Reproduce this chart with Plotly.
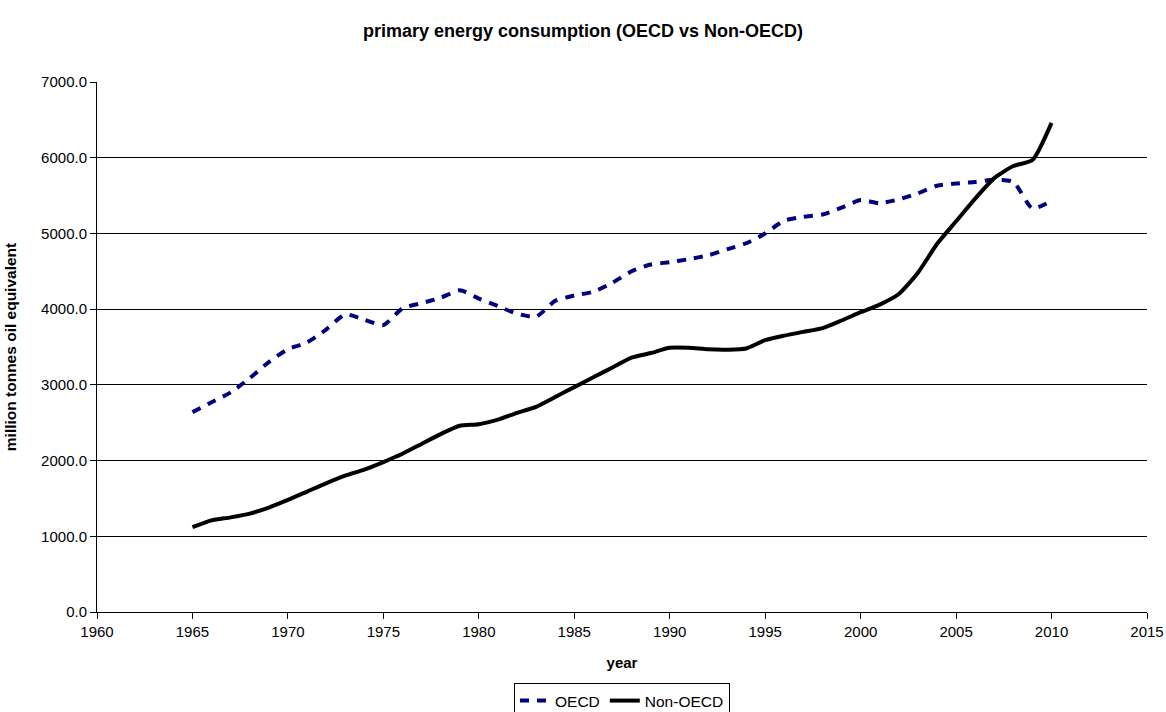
import plotly.graph_objects as go

years = list(range(1965, 2011))
oecd = [2640, 2770, 2900, 3090, 3300, 3470, 3560, 3730, 3930, 3860,
        3790, 4010, 4080, 4150, 4250, 4140, 4040, 3940, 3900, 4110,
        4180, 4230, 4350, 4500, 4590, 4620, 4660, 4710, 4790, 4870,
        5000, 5170, 5220, 5250, 5340, 5440, 5400, 5450, 5530, 5630,
        5660, 5680, 5710, 5680, 5330, 5430]
non_oecd = [1120, 1210, 1250, 1300, 1380, 1480, 1590, 1700, 1800, 1880,
            1980, 2090, 2220, 2350, 2460, 2480, 2540, 2630, 2710, 2840,
            2970, 3100, 3230, 3360, 3420, 3490, 3490, 3470, 3465, 3480,
            3590, 3650, 3700, 3750, 3850, 3960, 4060, 4200, 4480, 4860,
            5160, 5460, 5730, 5890, 5970, 6460]

title = "primary energy consumption (OECD vs Non-OECD)"
x_title = "year"
y_title = "million tonnes oil equivalent"

fig = go.Figure()
fig.add_trace(go.Scatter(
    x=years, y=oecd, name="OECD", mode="lines",
    line=dict(color="#000080", width=4, dash="9px,8px", shape="spline", smoothing=0.6),
))
fig.add_trace(go.Scatter(
    x=years, y=non_oecd, name="Non-OECD", mode="lines",
    line=dict(color="#000000", width=4, shape="spline", smoothing=0.6),
))

W, H = 1166, 712
font_family = "Liberation Sans, Arial, sans-serif"
fig.update_layout(
    width=W, height=H,
    margin=dict(l=97, r=19, t=82, b=100, autoexpand=False),
    paper_bgcolor="white", plot_bgcolor="white",
    font=dict(family=font_family, size=15, color="black"),
    title=dict(text="<b>" + title + "</b>", x=0.5, xanchor="center",
               y=1 - 31 / H, yanchor="middle", font=dict(size=18)),
    xaxis=dict(
        range=[1960, 2015], dtick=5, tick0=1960, automargin=False,
        showline=True, linecolor="black", linewidth=1,
        ticks="outside", ticklen=6, tickcolor="black",
        showgrid=False, zeroline=False, tickfont=dict(size=15),
        title=dict(text="<b>" + x_title + "</b>", font=dict(size=15), standoff=18),
    ),
    yaxis=dict(
        range=[0, 7000], dtick=1000, tickformat=".1f", automargin=False,
        showline=True, linecolor="black", linewidth=1,
        ticks="outside", ticklen=6, tickcolor="black",
        showgrid=True, gridcolor="black", gridwidth=1, zeroline=False,
        tickfont=dict(size=15),
        title=dict(text="<b>" + y_title + "</b>", font=dict(size=15.5), standoff=20),
    ),
    legend=dict(
        orientation="h", x=0.5, xanchor="center",
        yref="container", y=1 - 683 / H, yanchor="top",
        bordercolor="black", borderwidth=1, font=dict(size=15.5),
        itemwidth=30, tracegroupgap=0,
    ),
    showlegend=True,
)

fig.write_html(
    "out.html",
    config={"displayModeBar": False},
    post_script="document.body.style.margin='0';document.body.style.overflow='hidden';",
)
